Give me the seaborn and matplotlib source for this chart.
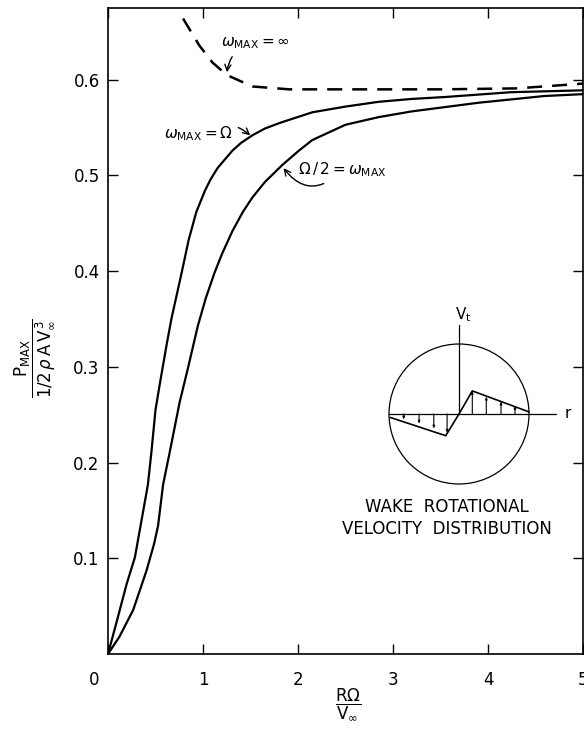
import numpy as np
import matplotlib
matplotlib.use("Agg")
import matplotlib.pyplot as plt
import matplotlib.transforms as mtransforms
from matplotlib.patches import Circle
import seaborn as sns

# --- curve data ---
omega_x = [0, 0.10, 0.196, 0.283, 0.37, 0.42, 0.457, 0.50, 0.545, 0.615, 0.667,
           0.77, 0.85, 0.93, 1.02, 1.08, 1.155, 1.31, 1.40, 1.52, 1.65, 1.81,
           2.15, 2.50, 2.85, 3.20, 3.55, 4.24, 5.0]
omega_y = [0, 0.037, 0.073, 0.101, 0.149, 0.177, 0.211, 0.255, 0.282, 0.322, 0.350,
           0.396, 0.433, 0.462, 0.484, 0.496, 0.508, 0.526, 0.534, 0.542, 0.549, 0.555,
           0.566, 0.572, 0.577, 0.580, 0.582, 0.587, 0.589]

half_x = [0, 0.12, 0.265, 0.405, 0.485, 0.527, 0.58, 0.65, 0.754, 0.84, 0.946,
          1.03, 1.12, 1.20, 1.31, 1.42, 1.52, 1.65, 1.835, 2.01, 2.15, 2.50,
          2.85, 3.20, 3.90, 4.59, 5.0]
half_y = [0, 0.018, 0.046, 0.087, 0.115, 0.134, 0.177, 0.211, 0.263, 0.298, 0.343,
          0.372, 0.398, 0.418, 0.442, 0.462, 0.477, 0.493, 0.511, 0.526, 0.537, 0.553,
          0.561, 0.567, 0.576, 0.583, 0.585]

inf_x = [0.79, 0.96, 1.10, 1.25, 1.52, 1.91, 2.5, 3.5, 4.3, 5.0]
inf_y = [0.664, 0.636, 0.618, 0.605, 0.593, 0.590, 0.590, 0.590, 0.591, 0.596]

xticks = [0, 1, 2, 3, 4, 5]
yticks = [0.1, 0.2, 0.3, 0.4, 0.5, 0.6]
ytick_labels = ["0.1", "0.2", "0.3", "0.4", "0.5", "0.6"]

# inset: wake rotational velocity profile (r, V_t), circle radius = 1
profile_r = [-0.98, -0.19, 0.0, 0.19, 1.0]
profile_v = [-0.05, -0.31, 0.0, 0.33, 0.03]
arrow_r = [-0.79, -0.57, -0.36, -0.17, 0.19, 0.39, 0.60, 0.80]
arrow_v = [-0.08, -0.14, -0.21, -0.27, 0.33, 0.25, 0.18, 0.12]

sns.set_style("ticks")
plt.rcParams['font.family'] = ['DejaVu Sans']
plt.rcParams['mathtext.fontset'] = 'dejavusans'
plt.rcParams['text.color'] = 'black'
plt.rcParams['axes.labelcolor'] = 'black'

fig = plt.figure(figsize=(5.84, 7.3), dpi=100)
ax = fig.add_axes([108 / 584, 76 / 730, 475 / 584, 646 / 730])

sns.lineplot(x=omega_x, y=omega_y, ax=ax, color="black", lw=1.6)
sns.lineplot(x=half_x, y=half_y, ax=ax, color="black", lw=1.6)
sns.lineplot(x=inf_x, y=inf_y, ax=ax, color="black", lw=1.8, linestyle=(0, (6, 4)))

ax.set_xlim(0, 5)
ax.set_ylim(0, 0.675)
ax.set_xticks(xticks)
ax.set_yticks(yticks)
ax.set_yticklabels(ytick_labels)
ax.tick_params(direction="in", length=7, width=1, top=True, right=True,
               labelsize=12, colors="black")
ax.tick_params(axis="x", pad=12)
ax.tick_params(axis="y", pad=6)
for sp in ax.spines.values():
    sp.set_visible(True)
    sp.set_linewidth(1.2)
    sp.set_color("black")

# shift the corner "0" a bit to the left as in the original
lbl0 = ax.get_xticklabels()[0]
lbl0.set_transform(lbl0.get_transform() +
                   mtransforms.ScaledTranslation(-0.14, 0, fig.dpi_scale_trans))

# axis labels as stacked fractions
fig.text(35 / 584, (730 - 358) / 730,
         r'$\dfrac{\mathrm{P}_{\mathrm{MAX}}}{1/2\,\rho\,\mathrm{A}\,\mathrm{V}_{\infty}^{\,3}}$',
         rotation=90, ha="center", va="center", fontsize=12)
fig.text(348 / 584, (730 - 704) / 730, r'$\dfrac{\mathrm{R}\Omega}{\mathrm{V}_{\infty}}$',
         ha="center", va="center", fontsize=12)

# curve annotations
arrow_kw = dict(arrowstyle="->", color="black", lw=1.0)
ax.annotate(r'$\omega_{\mathrm{MAX}} = \infty$', xy=(1.25, 0.605), xytext=(1.19, 0.638),
            fontsize=11, va="center", ha="left",
            arrowprops=dict(connectionstyle="arc3,rad=0.4", **arrow_kw))
ax.annotate(r'$\omega_{\mathrm{MAX}} = \Omega$', xy=(1.52, 0.540), xytext=(1.31, 0.544),
            fontsize=11, va="center", ha="right",
            arrowprops=dict(connectionstyle="arc3,rad=-0.4", **arrow_kw))
ax.annotate(r'$\Omega\,/\,2 = \omega_{\mathrm{MAX}}$', xy=(1.83, 0.510), xytext=(2.0, 0.506),
            fontsize=11, va="center", ha="left",
            arrowprops=dict(connectionstyle="arc3,rad=-0.6", **arrow_kw))

# inset drawing
px = 70.0
left_px, bottom_px = 459 - 1.1 * px, 414 + 1.1 * px
ax_in = fig.add_axes([left_px / 584, (730 - bottom_px) / 730, 2.8 * px / 584, 2.7 * px / 730])
ax_in.set_xlim(-1.1, 1.7)
ax_in.set_ylim(-1.1, 1.6)
ax_in.axis("off")
ax_in.patch.set_alpha(0)
ax_in.add_patch(Circle((0, 0), 1.0, fill=False, lw=0.9, color="black"))
ax_in.plot([-1.0, 1.39], [0, 0], color="black", lw=0.9)
ax_in.plot([0, 0], [0, 1.27], color="black", lw=0.9)
ax_in.plot(profile_r, profile_v, color="black", lw=1.2)
for r, v in zip(arrow_r, arrow_v):
    ax_in.annotate("", xy=(r, v), xytext=(r, 0),
                   arrowprops=dict(arrowstyle="-|>,head_length=0.15,head_width=0.06",
                                   color="black", lw=0.8, shrinkA=0, shrinkB=0))
ax_in.text(1.56, 0, "r", fontsize=11, ha="center", va="center")
ax_in.text(0.06, 1.42, r'$\mathrm{V}_{\mathrm{t}}$', fontsize=11, ha="center", va="center")

ax.text(3.57, 0.142, "WAKE  ROTATIONAL\nVELOCITY  DISTRIBUTION", fontsize=12,
        ha="center", va="center", linespacing=1.25)

fig.savefig("out.png", dpi=100)
